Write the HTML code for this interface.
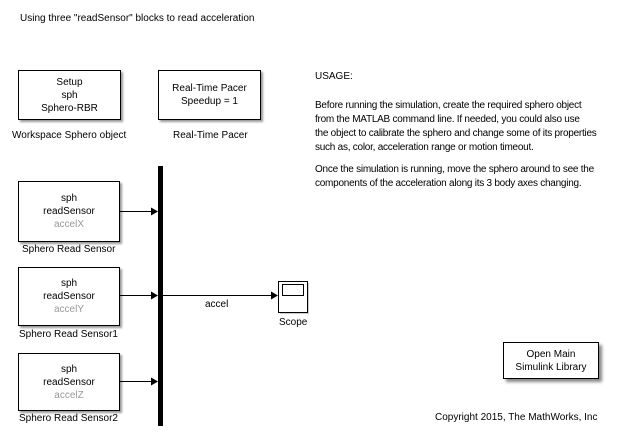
<!DOCTYPE html>
<html><head><meta charset="utf-8"><style>
body{margin:0;width:623px;height:438px;background:#fff;position:relative;overflow:hidden;font-family:"Liberation Sans",Arial,sans-serif;font-size:10px;color:#000}
.t{position:absolute;white-space:nowrap;line-height:14px}
.b{position:absolute;border:1px solid #000;background:#fff;box-shadow:2px 2px 2px #999;text-align:center;line-height:13px;display:flex;flex-direction:column;justify-content:center;box-sizing:border-box}
.g{color:#999}
.p{letter-spacing:-0.25px}
</style></head><body>
<div class="t" style="left:20px;top:12px">Using three "readSensor" blocks to read acceleration</div>

<div class="b" style="left:18px;top:70px;width:103px;height:50px">Setup<br>sph<br>Sphero-RBR</div>
<div class="t" style="left:12px;top:129px">Workspace Sphero object</div>
<div class="b" style="left:158px;top:70px;width:103px;height:50px">Real-Time Pacer<br>Speedup = 1</div>
<div class="t" style="left:173px;top:129px">Real-Time Pacer</div>

<div class="b" style="left:18px;top:181px;width:102px;height:61px">sph<br>readSensor<br><span class="g">accelX</span></div>
<div class="t" style="left:22px;top:243px">Sphero Read Sensor</div>
<div class="b" style="left:18px;top:267px;width:102px;height:59px">sph<br>readSensor<br><span class="g">accelY</span></div>
<div class="t" style="left:19px;top:328px">Sphero Read Sensor1</div>
<div class="b" style="left:18px;top:353px;width:102px;height:58px">sph<br>readSensor<br><span class="g">accelZ</span></div>
<div class="t" style="left:19px;top:412px">Sphero Read Sensor2</div>

<svg style="position:absolute;left:0;top:0" width="623" height="438">
<rect x="158" y="166" width="5" height="260" fill="#000"/>
<g stroke="#000" stroke-width="1">
<line x1="120" y1="211.5" x2="152" y2="211.5"/>
<line x1="120" y1="295.5" x2="152" y2="295.5"/>
<line x1="120" y1="381.5" x2="152" y2="381.5"/>
<line x1="163" y1="295.5" x2="272" y2="295.5"/>
</g>
<g fill="#000">
<polygon points="151,207.5 158,211.5 151,215.5"/>
<polygon points="151,291.5 158,295.5 151,299.5"/>
<polygon points="151,377.5 158,381.5 151,385.5"/>
<polygon points="271,291.5 278,295.5 271,299.5"/>
</g>
<rect x="280" y="283" width="29" height="31" fill="#999" opacity="0.5"/>
<rect x="278.5" y="281.5" width="29" height="31" fill="#fff" stroke="#000"/>
<rect x="282.5" y="284.5" width="21" height="11" fill="#fff" stroke="#000"/>
</svg>
<div class="t" style="left:205px;top:298px">accel</div>
<div class="t" style="left:279px;top:316px">Scope</div>

<div class="t" style="left:315px;top:70px">USAGE:</div>
<div class="t p" style="left:315px;top:99px">Before running the simulation, create the required sphero object<br>from the MATLAB command line. If needed, you could also use<br>the object to calibrate the sphero and change some of its properties<br>such as, color, acceleration range or motion timeout.</div>
<div class="t p" style="left:315px;top:163px">Once the simulation is running, move the sphero around to see the<br>components of the acceleration along its 3 body axes changing.</div>

<div class="b" style="left:503px;top:342px;width:96px;height:37px;box-shadow:3px 3px 3px #888">Open Main<br>Simulink Library</div>
<div class="t" style="left:435px;top:411px">Copyright 2015, The MathWorks, Inc</div>
</body></html>
